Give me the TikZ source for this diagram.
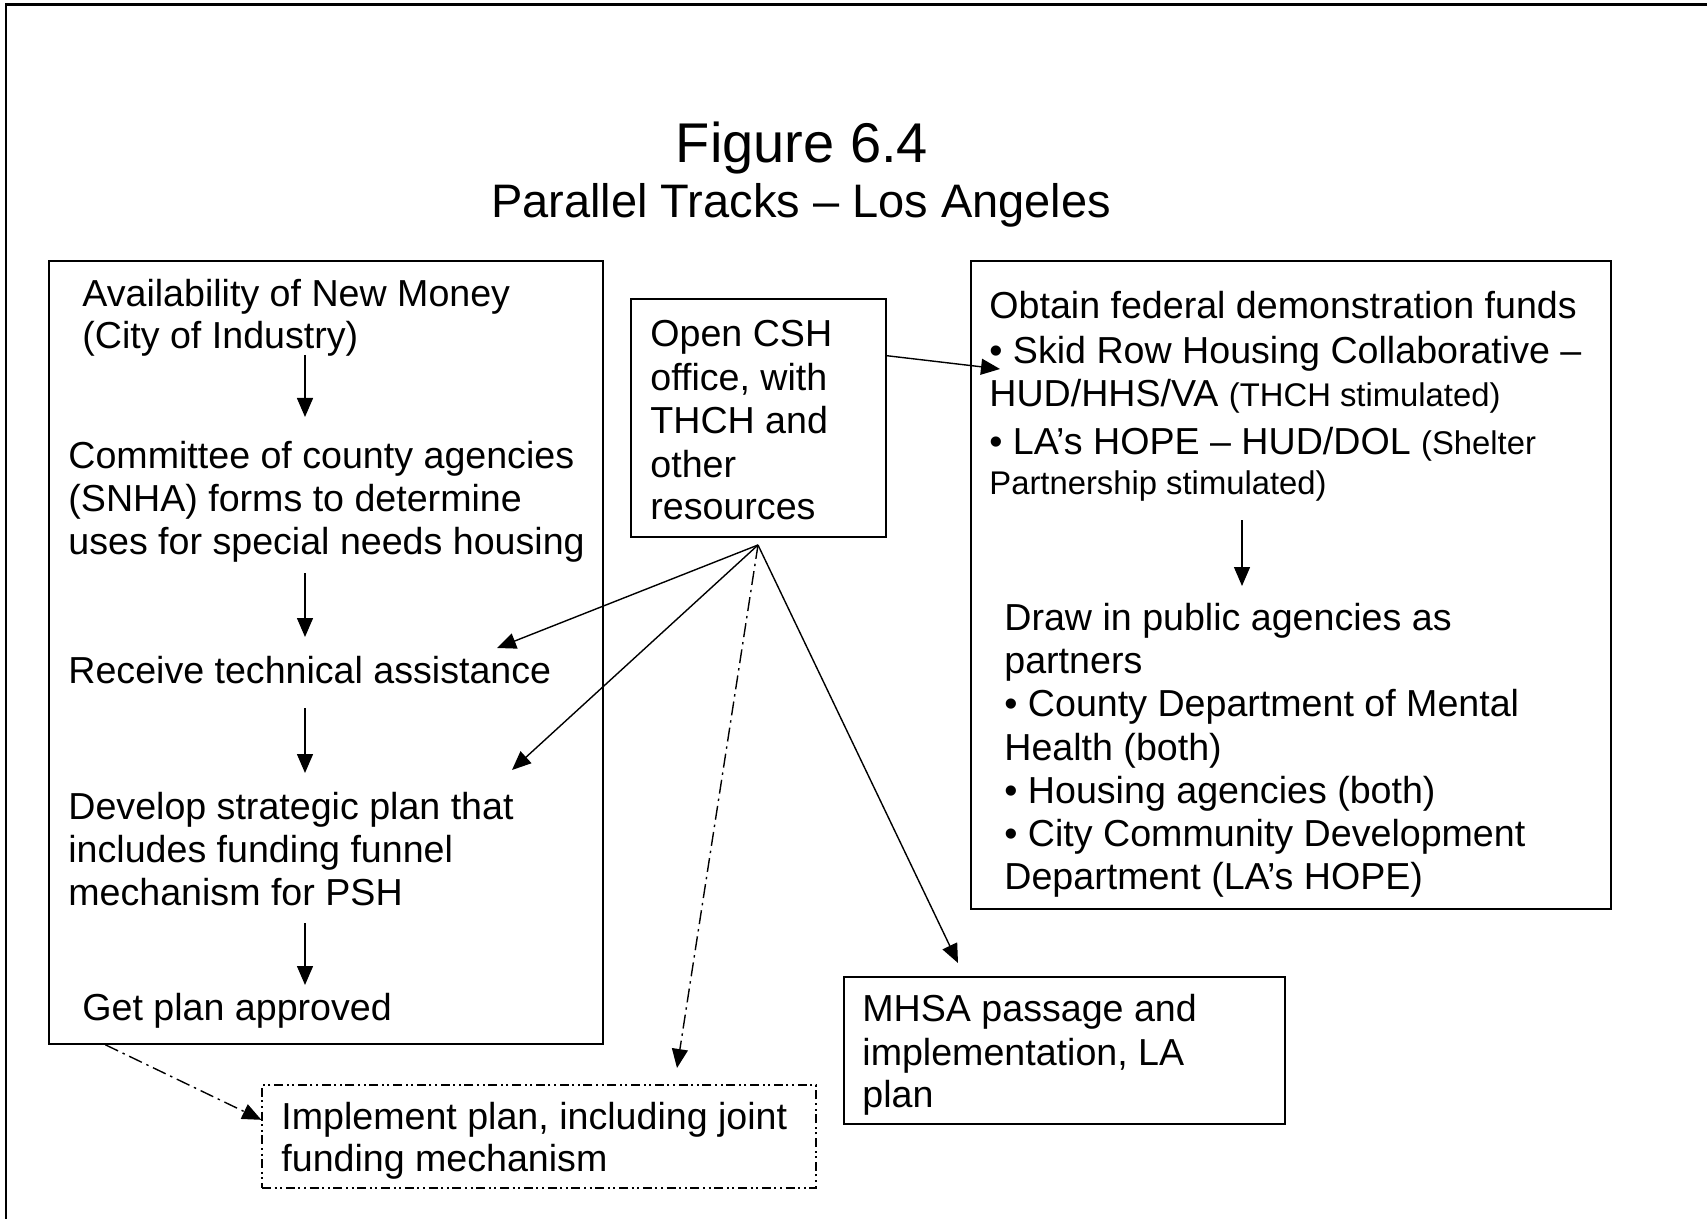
\documentclass[tikz,border=0pt]{standalone}
\usepackage{fontspec}
\setmainfont{Liberation Sans}
\usetikzlibrary{arrows.meta,calc,fit}
\begin{document}
\begin{tikzpicture}[x=0.5pt,y=-0.5pt,
  box/.style={draw,line width=0.8pt,inner sep=0pt},
  dbox/.style={draw,line width=0.65pt,inner sep=0pt,dash pattern=on 4.5pt off 1.8pt on 1pt off 1.8pt on 1pt off 1.8pt},
  txt/.style={anchor=base west,inner sep=0pt,font=\fontsize{18.8}{21.6}\selectfont},
  sm/.style={font=\fontsize{16.4}{19}\selectfont},
  arr/.style={-{Triangle[length=9.5pt,width=8pt]},line width=0.7pt},
  darr/.style={arr,dash pattern=on 7pt off 2.5pt on 1.2pt off 2.5pt}]
\useasboundingbox (0,0) rectangle (1707,1219);
% page border
\draw[line width=1.2pt] (6,1219) -- (6,4.5) -- (1707,4.5);
% titles
\node[anchor=base,inner sep=0pt,font=\fontsize{28}{32}\selectfont] (title) at (802,163) {Figure 6.4};
\node[anchor=base,inner sep=0pt,font=\fontsize{23.5}{28}\selectfont] (subtitle) at (801,218) {Parallel Tracks – Los Angeles};
% boxes
\node[box,fit={(49,261) (603,1044)}] (leftbox) {};
\node[box,fit={(631,299) (886,537)}] (openbox) {};
\node[box,fit={(971,261) (1611,909)}] (rightbox) {};
\node[box,fit={(844,977) (1285,1124)}] (mhsabox) {};
\node[dbox,fit={(262,1085) (816,1188)}] (implbox) {};
% left box text
\node[txt] (a1) at (82,307) {Availability of New Money};
\node[txt] (a2) at (82,349) {(City of Industry)};
\node[txt] (c1) at (68,468) {Committee of county agencies};
\node[txt] (c2) at (68,511) {(SNHA) forms to determine};
\node[txt] (c3) at (68,554) {uses for special needs housing};
\node[txt] (r1) at (68,683) {Receive technical assistance};
\node[txt] (d1) at (68,819) {Develop strategic plan that};
\node[txt] (d2) at (68,862) {includes funding funnel};
\node[txt] (d3) at (68,905) {mechanism for PSH};
\node[txt] (g1) at (82,1020) {Get plan approved};
% center box text
\node[txt] (o1) at (650,347) {Open CSH};
\node[txt] (o2) at (650,391) {office, with};
\node[txt] (o3) at (650,433) {THCH and};
\node[txt] (o4) at (650,477) {other};
\node[txt] (o5) at (650,519) {resources};
% right box text
\node[txt] (f1) at (989,319) {Obtain federal demonstration funds};
\node[txt] (f2) at (989,364) {• Skid Row Housing Collaborative –};
\node[txt] (f3) at (989,407) {HUD/HHS/VA {\fontsize{16.4}{19}\selectfont (THCH stimulated)}};
\node[txt] (f4) at (989,454) {• LA’s HOPE – HUD/DOL {\fontsize{16.4}{19}\selectfont (Shelter}};
\node[txt,sm] (f5) at (989,494) {Partnership stimulated)};
\node[txt] (p1) at (1004,630) {Draw in public agencies as};
\node[txt] (p2) at (1004,673) {partners};
\node[txt] (p3) at (1004,716) {• County Department of Mental};
\node[txt] (p4) at (1004,760) {Health (both)};
\node[txt] (p5) at (1004,803) {• Housing agencies (both)};
\node[txt] (p6) at (1004,846) {• City Community Development};
\node[txt] (p7) at (1004,889) {Department (LA’s HOPE)};
% MHSA text
\node[txt] (m1) at (862,1021) {MHSA passage and};
\node[txt] (m2) at (862,1065) {implementation, LA};
\node[txt] (m3) at (862,1107) {plan};
% implement text
\node[txt] (i1) at (281,1129) {Implement plan, including joint};
\node[txt] (i2) at (281,1171) {funding mechanism};
% connector end points
\coordinate (ax) at (305,0);
\coordinate (bx) at (1242,0);
\coordinate (fan) at (758,545);
\coordinate (skidtip) at (1000,369);
\coordinate (rtip) at (497,648);
\coordinate (dtip) at (512,770);
\coordinate (itip) at (677,1068);
\coordinate (mtip) at (958,963);
% vertical arrows
\draw[arr] ([yshift=-3pt]a2.base -| ax) -- ([yshift=-34pt]a2.base -| ax);
\draw[arr] ([yshift=-9.5pt]c3.base -| ax) -- ([yshift=-41.5pt]c3.base -| ax);
\draw[arr] ([yshift=-12.5pt]r1.base -| ax) -- ([yshift=-45pt]r1.base -| ax);
\draw[arr] ([yshift=-9pt]d3.base -| ax) -- ([yshift=-40pt]d3.base -| ax);
\draw[arr] ([yshift=-13pt]f5.base -| bx) -- ([yshift=-46pt]f5.base -| bx);
% other connectors
\draw[arr] ($(openbox.north east)!0.24!(openbox.south east)$) -- (skidtip);
\draw[arr] (fan) -- (rtip);
\draw[arr] (fan) -- (dtip);
\draw[arr] (fan) -- (mtip);
\draw[darr] (fan) -- (itip);
\draw[darr] ($(leftbox.south west)!0.103!(leftbox.south east)$) -- ($(implbox.north west)!0.34!(implbox.south west)$);
\end{tikzpicture}
\end{document}
